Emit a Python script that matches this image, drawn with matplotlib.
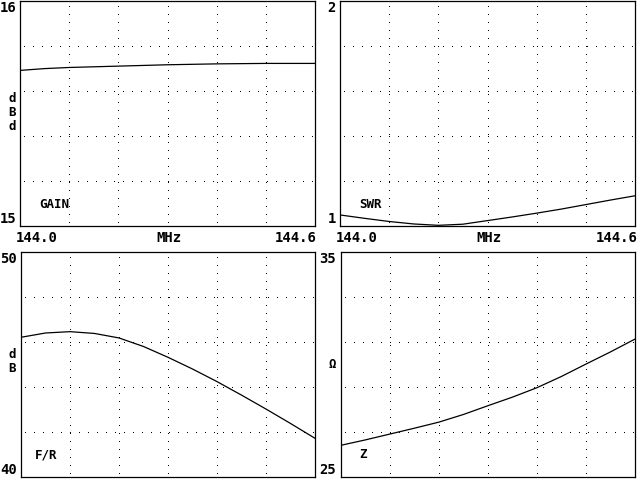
import matplotlib
matplotlib.use("Agg")
import matplotlib.pyplot as plt

plt.rcParams.update({
    "font.family": "DejaVu Sans Mono",
    "font.weight": "bold",
    "font.size": 10,
})

W, H = 640, 480

freq = [144.00, 144.05, 144.10, 144.15, 144.20, 144.25, 144.30,
        144.35, 144.40, 144.45, 144.50, 144.55, 144.60]
gain = [15.690, 15.698, 15.703, 15.706, 15.709, 15.712, 15.715,
        15.717, 15.719, 15.720, 15.721, 15.721, 15.721]
swr = [1.049, 1.034, 1.020, 1.009, 1.003, 1.008, 1.024,
       1.040, 1.057, 1.075, 1.095, 1.115, 1.134]
fr = [46.21, 46.40, 46.46, 46.38, 46.18, 45.80, 45.32,
      44.80, 44.24, 43.64, 43.02, 42.38, 41.72]
z = [26.41, 26.65, 26.91, 27.17, 27.44, 27.78, 28.17,
     28.55, 28.97, 29.47, 30.02, 30.56, 31.13]

x_lo, x_hi = 144.0, 144.6
gain_lim = (15, 16)
swr_lim = (1, 2)
fr_lim = (40, 50)
z_lim = (25, 35)

fig = plt.figure(figsize=(W / 100, H / 100), dpi=100)


def px_axes(x0, y0, x1, y1):
    # pixel box (top-left origin) -> figure axes
    return fig.add_axes([x0 / W, 1 - y1 / H, (x1 - x0) / W, (y1 - y0) / H])


def ftext(x, y, s, **kw):
    fig.text(x / W, 1 - y / H, s, **kw)


def panel(ax, xs, ys, ylim):
    ax.plot(xs, ys, color="black", lw=0.9)
    ax.set_xlim(x_lo, x_hi)
    ax.set_ylim(*ylim)
    step_y = (ylim[1] - ylim[0]) / 5
    for i in range(1, 6):
        ax.axvline(x_lo + 0.1 * i, color="black", lw=0.72,
                   linestyle=(4, (1, 8)), antialiased=False, zorder=0)
    for i in range(1, 5):
        ax.axhline(ylim[0] + step_y * i, color="black", lw=0.72,
                   linestyle=(5, (1, 9)), antialiased=False, zorder=0)
    ax.set_xticks([])
    ax.set_yticks([])
    for sp in ax.spines.values():
        sp.set_linewidth(0.9)


ax1 = px_axes(20, 0.5, 315, 226)
ax2 = px_axes(340, 0.5, 635, 226)
ax3 = px_axes(21, 252, 315, 477)
ax4 = px_axes(341, 252, 635, 477)

panel(ax1, freq, gain, gain_lim)
panel(ax2, freq, swr, swr_lim)
panel(ax3, freq, fr, fr_lim)
panel(ax4, freq, z, z_lim)

# y range labels
ftext(0, 1, "16", ha="left", va="top")
ftext(0, 226, "15", ha="left", va="bottom")
ftext(336, 1, "2", ha="right", va="top")
ftext(336, 226, "1", ha="right", va="bottom")
ftext(0, 252, "50", ha="left", va="top")
ftext(0, 477, "40", ha="left", va="bottom")
ftext(336, 252, "35", ha="right", va="top")
ftext(336, 477, "25", ha="right", va="bottom")

# unit letters
for yy, ch in zip([98, 112, 126], ["d", "B", "d"]):
    ftext(12, yy, ch, ha="center", va="center", fontsize=9)
for yy, ch in zip([355, 369], ["d", "B"]):
    ftext(12, yy, ch, ha="center", va="center", fontsize=9)
ftext(332, 365, "Ω", ha="center", va="center", fontsize=9)

# x labels
for left, right in [(16, 317), (336, 638)]:
    ftext(left, 238, "144.0", ha="left", va="center")
    ftext((left + right) / 2 + 2, 238, "MHz", ha="center", va="center")
    ftext(right, 238, "144.6", ha="right", va="center")

# panel names
ftext(39, 204, "GAIN", ha="left", va="center", fontsize=9)
ftext(359, 204, "SWR", ha="left", va="center", fontsize=9)
ftext(35, 455, "F/R", ha="left", va="center", fontsize=9)
ftext(359, 455, "Z", ha="left", va="center", fontsize=9)

fig.savefig("out.png", dpi=100)
